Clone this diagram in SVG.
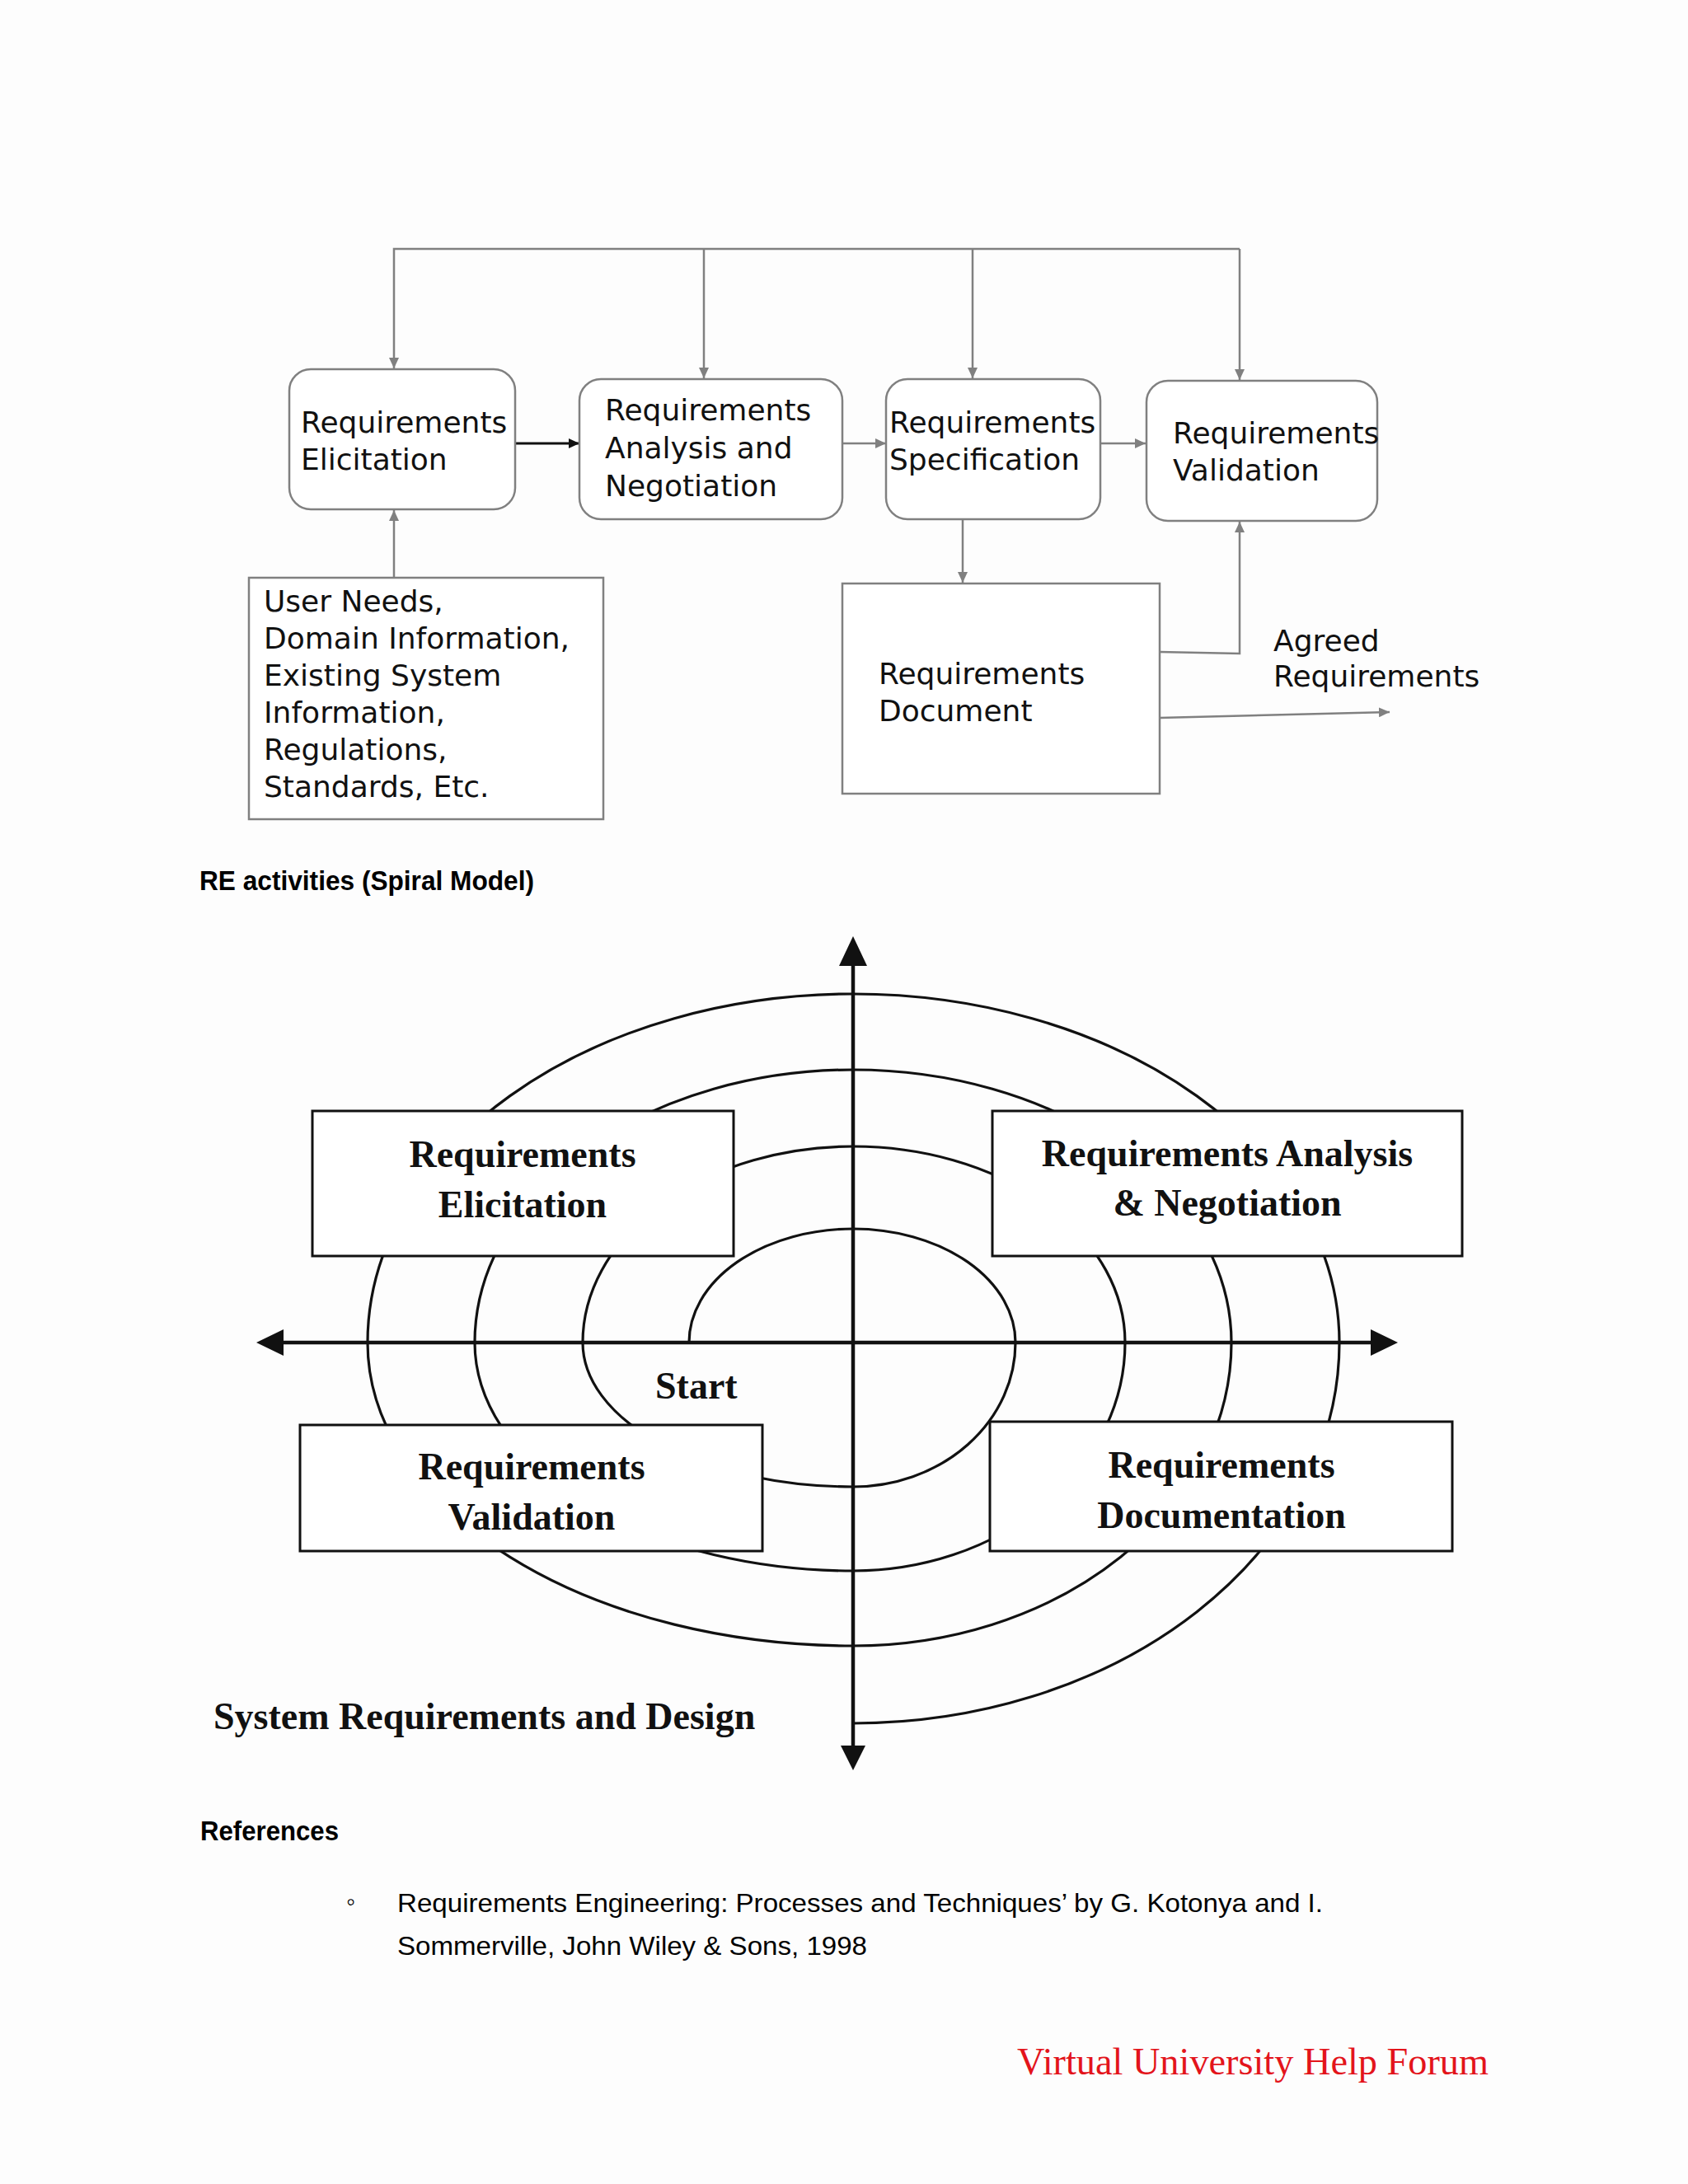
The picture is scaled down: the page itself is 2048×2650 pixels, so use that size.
<svg xmlns="http://www.w3.org/2000/svg" width="2048" height="2650" viewBox="0 0 2048 2650">
<defs>
<style>
.bg{fill:#fdfdfd}
.rbox{fill:#ffffff;stroke:#808080;stroke-width:2.5}
.gline{fill:none;stroke:#808080;stroke-width:2.5}
.kline{fill:none;stroke:#111;stroke-width:3}
.t1{font-family:"DejaVu Sans","Liberation Sans",sans-serif;font-size:36px;fill:#111}
.sbox{fill:#ffffff;stroke:#111;stroke-width:3}
.arc{fill:none;stroke:#111;stroke-width:3.2}
.axis{fill:none;stroke:#111;stroke-width:4.5}
.t2{font-family:"Liberation Serif","Times New Roman",serif;font-size:46px;font-weight:bold;fill:#111;text-anchor:middle}
.t2l{font-family:"Liberation Serif","Times New Roman",serif;font-size:46px;font-weight:bold;fill:#111}
.h{font-family:"Liberation Sans",Arial,sans-serif;font-size:34px;font-weight:bold;fill:#000}
.body{font-family:"Liberation Sans",Arial,sans-serif;font-size:32px;fill:#000}
.footer{font-family:"Liberation Serif","Times New Roman",serif;font-size:47px;fill:#e3141b}
</style>
<marker id="ag" markerUnits="userSpaceOnUse" markerWidth="14" markerHeight="12" refX="13" refY="6" orient="auto">
<path d="M0,0 L13,6 L0,12 z" fill="#808080"/>
</marker>
<marker id="ak" markerUnits="userSpaceOnUse" markerWidth="14" markerHeight="12" refX="13" refY="6" orient="auto">
<path d="M0,0 L13,6 L0,12 z" fill="#111"/>
</marker>
</defs>
<rect class="bg" x="0" y="0" width="2048" height="2650"/>

<!-- Top diagram connectors -->
<g id="connectors-top">
<path class="gline" d="M1504,302 L478,302 L478,447" marker-end="url(#ag)"/>
<path class="gline" d="M854,302 L854,459" marker-end="url(#ag)"/>
<path class="gline" d="M1180,302 L1180,459" marker-end="url(#ag)"/>
<path class="gline" d="M1504,302 L1504,461" marker-end="url(#ag)"/>
<path class="gline" d="M478,701 L478,619" marker-end="url(#ag)"/>
<path class="kline" d="M625,538 L703,538" marker-end="url(#ak)"/>
<path class="gline" d="M1022,538 L1075,538" marker-end="url(#ag)"/>
<path class="gline" d="M1335,538 L1390,538" marker-end="url(#ag)"/>
<path class="gline" d="M1168,630 L1168,707" marker-end="url(#ag)"/>
<path class="gline" d="M1407,791 L1504,793 L1504,633" marker-end="url(#ag)"/>
<path class="gline" d="M1407,871 L1686,864" marker-end="url(#ag)"/>
</g>

<g id="elicitation">
<rect class="rbox" x="351" y="448" width="274" height="170" rx="26" ry="26"/>
<text class="t1" x="365" y="525">Requirements</text>
<text class="t1" x="365" y="570">Elicitation</text>
</g>
<g id="analysis">
<rect class="rbox" x="703" y="460" width="319" height="170" rx="26" ry="26"/>
<text class="t1" x="734" y="510">Requirements</text>
<text class="t1" x="734" y="556">Analysis and</text>
<text class="t1" x="734" y="602">Negotiation</text>
</g>
<g id="specification">
<rect class="rbox" x="1075" y="460" width="260" height="170" rx="26" ry="26"/>
<text class="t1" x="1079" y="525">Requirements</text>
<text class="t1" x="1079" y="570">Specification</text>
</g>
<g id="validation">
<rect class="rbox" x="1391" y="462" width="280" height="170" rx="26" ry="26"/>
<text class="t1" x="1423" y="538">Requirements</text>
<text class="t1" x="1423" y="583">Validation</text>
</g>
<g id="inputs">
<rect class="rbox" x="302" y="701" width="430" height="293"/>
<text class="t1" x="320" y="742">User Needs,</text>
<text class="t1" x="320" y="787">Domain Information,</text>
<text class="t1" x="320" y="832">Existing System</text>
<text class="t1" x="320" y="877">Information,</text>
<text class="t1" x="320" y="922">Regulations,</text>
<text class="t1" x="320" y="967">Standards, Etc.</text>
</g>
<g id="document">
<rect class="rbox" x="1022" y="708" width="385" height="255"/>
<text class="t1" x="1066" y="830">Requirements</text>
<text class="t1" x="1066" y="875">Document</text>
</g>
<g id="agreed">
<text class="t1" x="1545" y="790">Agreed</text>
<text class="t1" x="1545" y="833">Requirements</text>
</g>

<text id="caption" class="h" x="242" y="1080" textLength="406" lengthAdjust="spacingAndGlyphs">RE activities (Spiral Model)</text>

<!-- Spiral model -->
<g id="spiral">
<path class="arc" d="M836,1629 A199,138 0 0 1 1035,1491 A197,138 0 0 1 1232,1629 A197,175 0 0 1 1035,1804 A328,175 0 0 1 707,1629 A328,238 0 0 1 1035,1391 A330,238 0 0 1 1365,1629 A330,277 0 0 1 1035,1906 A459,277 0 0 1 576,1629 A459,331 0 0 1 1035,1298 A459,331 0 0 1 1494,1629 A459,368 0 0 1 1035,1997 A589,368 0 0 1 446,1629 A589,423 0 0 1 1035,1206 A590,423 0 0 1 1625,1629 A590,462 0 0 1 1035,2091"/>
</g>
<g id="axes">
<path class="axis" d="M1035,1170 L1035,2120"/>
<path class="axis" d="M342,1629 L1665,1629"/>
<path d="M1035,1136 L1052,1172 L1018,1172 z" fill="#111"/>
<path d="M1035,2148 L1050,2118 L1020,2118 z" fill="#111"/>
<path d="M311,1629 L344,1613 L344,1645 z" fill="#111"/>
<path d="M1696,1629 L1663,1613 L1663,1645 z" fill="#111"/>
</g>
<g id="s-elicitation">
<rect class="sbox" x="379" y="1348" width="511" height="176"/>
<text class="t2" x="634" y="1416">Requirements</text>
<text class="t2" x="634" y="1477">Elicitation</text>
</g>
<g id="s-analysis">
<rect class="sbox" x="1204" y="1348" width="570" height="176"/>
<text class="t2" x="1489" y="1415">Requirements Analysis</text>
<text class="t2" x="1489" y="1475">&amp; Negotiation</text>
</g>
<g id="s-validation">
<rect class="sbox" x="364" y="1729" width="561" height="153"/>
<text class="t2" x="645" y="1795">Requirements</text>
<text class="t2" x="645" y="1856">Validation</text>
</g>
<g id="s-documentation">
<rect class="sbox" x="1201" y="1725" width="561" height="157"/>
<text class="t2" x="1482" y="1793">Requirements</text>
<text class="t2" x="1482" y="1854">Documentation</text>
</g>
<text id="start" class="t2l" x="795" y="1697">Start</text>
<text id="sysreq" class="t2l" x="259" y="2098">System Requirements and Design</text>

<g id="references">
<text class="h" x="243" y="2233" textLength="168" lengthAdjust="spacingAndGlyphs">References</text>
<text class="body" x="420" y="2318" font-size="26">◦</text>
<text class="body" x="482" y="2320" textLength="1123" lengthAdjust="spacingAndGlyphs">Requirements Engineering: Processes and Techniques’ by G. Kotonya and I.</text>
<text class="body" x="482" y="2372" textLength="570" lengthAdjust="spacingAndGlyphs">Sommerville, John Wiley &amp; Sons, 1998</text>
</g>
<text id="footer" class="footer" x="1234" y="2517" textLength="572" lengthAdjust="spacingAndGlyphs">Virtual University Help Forum</text>
</svg>
